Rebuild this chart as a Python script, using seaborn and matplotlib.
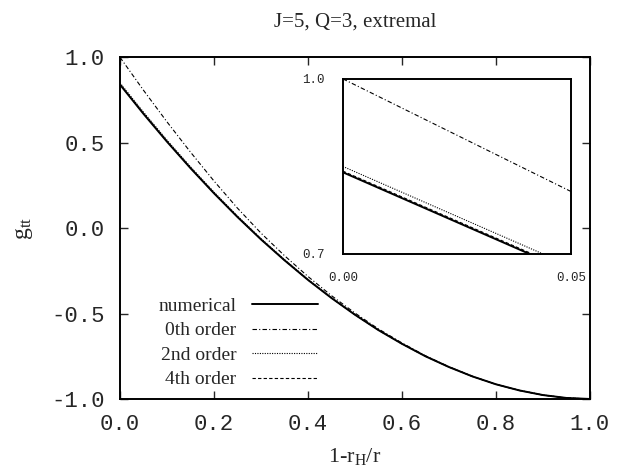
import numpy as np
import matplotlib
matplotlib.use('Agg')
import matplotlib.pyplot as plt
import seaborn as sns

# values
x = [0.00, 0.05, 0.10, 0.15, 0.20, 0.25, 0.30, 0.35, 0.40, 0.45, 0.50,
     0.55, 0.60, 0.65, 0.70, 0.75, 0.80, 0.85, 0.90, 0.95, 1.00]
numerical = [0.840, 0.669, 0.506, 0.351, 0.204, 0.065, -0.066, -0.188, -0.303, -0.409, -0.507,
             -0.597, -0.677, -0.750, -0.813, -0.868, -0.914, -0.950, -0.977, -0.994, -1.000]
order0 = [1.000, 0.807, 0.622, 0.445, 0.276, 0.117, -0.029, -0.161, -0.283, -0.395, -0.497,
          -0.590, -0.672, -0.747, -0.811, -0.867, -0.914, -0.950, -0.977, -0.994, -1.000]
order2 = [0.850, 0.679, 0.515, 0.359, 0.211, 0.071, -0.061, -0.184, -0.300, -0.407, -0.506,
          -0.596, -0.677, -0.750, -0.813, -0.868, -0.914, -0.950, -0.977, -0.994, -1.000]
order4 = [0.842, 0.671, 0.508, 0.353, 0.205, 0.066, -0.065, -0.188, -0.303, -0.409, -0.507,
          -0.597, -0.677, -0.750, -0.813, -0.868, -0.914, -0.950, -0.977, -0.994, -1.000]

labels = ['numerical', '0th order', '2nd order', '4th order']
main_xticks = [0.0, 0.2, 0.4, 0.6, 0.8, 1.0]
main_yticks = [-1.0, -0.5, 0.0, 0.5, 1.0]
inset_xticks = [0.0, 0.05]
inset_yticks = [0.7, 1.0]

sns.set_style('ticks')
plt.rcParams['font.family'] = ['Liberation Serif', 'DejaVu Serif']
plt.rcParams['mathtext.fontset'] = 'custom'
plt.rcParams['mathtext.rm'] = 'Liberation Serif'
plt.rcParams['mathtext.it'] = 'Liberation Serif'

styles = [
    dict(color='black', lw=1.4, ls='-'),
    dict(color='black', lw=0.8, ls=(0, (4, 2, 1, 2))),
    dict(color='black', lw=0.8, ls=(0, (1, 1.2))),
    dict(color='black', lw=0.8, ls=(0, (3, 2))),
]
series = [numerical, order0, order2, order4]

fig = plt.figure(figsize=(6.2, 4.72), dpi=100)
ax = fig.add_axes([0.1935, 0.1547, 0.758, 0.724])

for ys, lab, st in zip(series, labels, styles):
    sns.lineplot(x=x, y=ys, ax=ax, label=lab, **st)

ax.set_xlim(0, 1)
ax.set_ylim(-1, 1)
ax.set_xticks(main_xticks)
ax.set_yticks(main_yticks)
ax.set_xticklabels([f'{v:.1f}' for v in main_xticks], family='Liberation Mono', fontsize=16)
ax.set_yticklabels([f'{v:.1f}' for v in main_yticks], family='Liberation Mono', fontsize=16)
ax.tick_params(direction='in', length=6, width=1, top=True, right=True, pad=11)
for sp in ax.spines.values():
    sp.set_linewidth(1.4)
    sp.set_color('black')

ax.set_title('J=5, Q=3, extremal', fontsize=15, pad=22)
ax.set_xlabel(r'1-r$_\mathrm{H}$/r', fontsize=16, labelpad=8)
ax.set_ylabel(r'g$_\mathrm{tt}$', fontsize=17, labelpad=12)

leg = ax.legend(loc='lower left', bbox_to_anchor=(0.045, -0.02), frameon=False,
                markerfirst=False, alignment='right', fontsize=14,
                handlelength=3.4, handletextpad=0.8, labelspacing=0.35)

# inset zoom near the horizon
axins = fig.add_axes([0.553, 0.4619, 0.368, 0.371])
for ys, st in zip(series, styles):
    sns.lineplot(x=x, y=ys, ax=axins, **st)
axins.set_xlim(0, 0.05)
axins.set_ylim(0.7, 1.0)
axins.set_xticks(inset_xticks)
axins.set_yticks(inset_yticks)
axins.set_xticklabels(['0.00', '0.05'], family='Liberation Mono', fontsize=9)
axins.set_yticklabels(['0.7', '1.0'], family='Liberation Mono', fontsize=9)
axins.tick_params(length=0, pad=13)
for sp in axins.spines.values():
    sp.set_linewidth(1.4)
    sp.set_color('black')

fig.savefig('out.png', dpi=100)
